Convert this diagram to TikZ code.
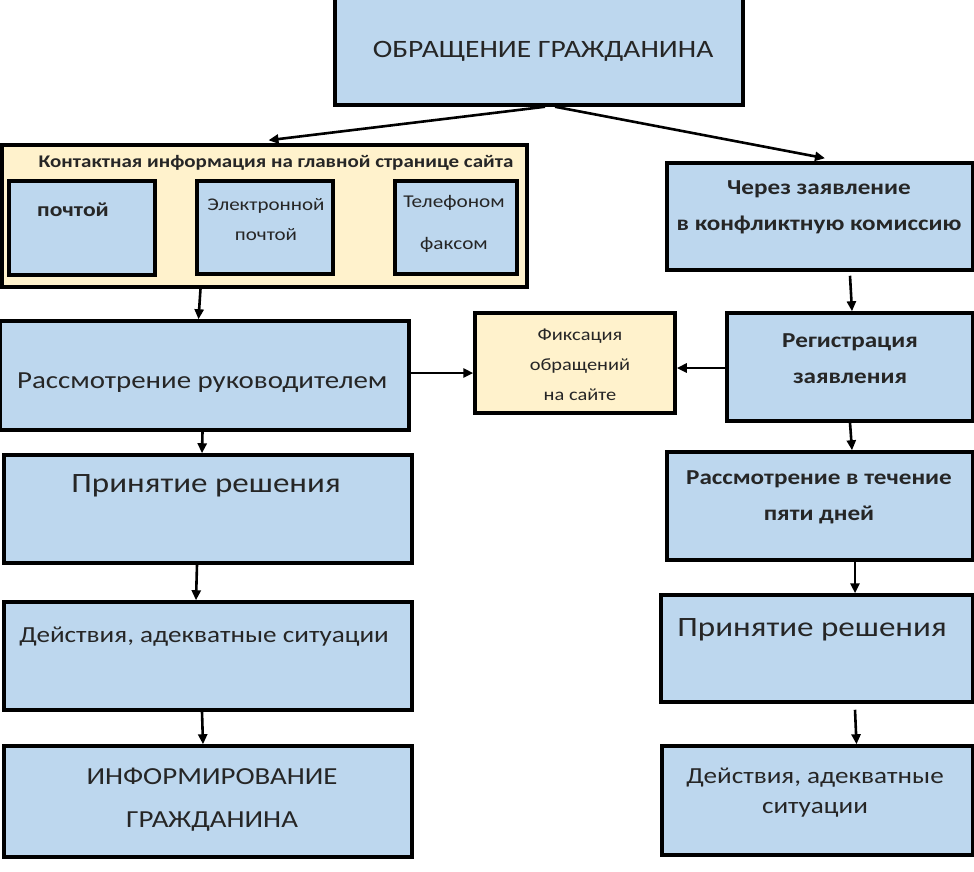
\documentclass[tikz,border=0pt]{standalone}
\usepackage{fontspec}
\usepackage{graphicx}
\setmainfont{Carlito}
\usetikzlibrary{arrows.meta}
\definecolor{boxblue}{RGB}{189,215,238}
\definecolor{boxyellow}{RGB}{255,242,204}
\newcommand\sx[1]{\scalebox{1.18}[1]{#1}}
\begin{document}
\begin{tikzpicture}[x=1pt,y=-1pt,
  bluebox/.style={draw=black,line width=3.5pt,fill=boxblue,inner sep=0pt},
  yellowbox/.style={draw=black,line width=3.5pt,fill=boxyellow,inner sep=0pt},
  txt/.style={inner sep=0pt,align=center,text=black!85},
  arr/.style={line width=2.6pt,-{Triangle[length=10pt,width=9pt]}}]
\useasboundingbox[fill=white] (0,0) rectangle (974,871);
% top
\node[bluebox,minimum width=408pt,minimum height=112pt] (top) at (539,49) {};
\node[txt,font=\fontsize{25}{30}\selectfont] (toptxt) at (543,51) {\sx{ОБРАЩЕНИЕ ГРАЖДАНИНА}};
% yellow contact box
\node[yellowbox,minimum width=525pt,minimum height=142pt] (yel) at (264.5,216) {};
\node[txt,font=\bfseries\fontsize{17.8}{20}\selectfont] (yeltxt) at (276,163) {\sx{Контактная информация на главной странице сайта}};
\node[bluebox,minimum width=146pt,minimum height=94pt] (post) at (82,228) {};
\node[txt,font=\bfseries\fontsize{20}{22}\selectfont] (posttxt) at (73,210) {\sx{почтой}};
\node[bluebox,minimum width=136pt,minimum height=93pt] (email) at (265,227.5) {};
\node[txt,font=\fontsize{17.8}{30}\selectfont] (emailtxt) at (266,220) {\sx{Электронной}\\\sx{почтой}};
\node[bluebox,minimum width=122pt,minimum height=93pt] (phone) at (456,227.5) {};
\node[txt,font=\fontsize{18}{42}\selectfont] (phonetxt) at (454,224) {\sx{Телефоном}\\\sx{факсом}};
% right column
\node[bluebox,minimum width=306pt,minimum height=107pt] (r1) at (820,216.5) {};
\node[txt,font=\bfseries\fontsize{21.3}{36}\selectfont] (r1txt) at (819,207) {\sx{Через заявление}\\\sx{в конфликтную комиссию}};
\node[bluebox,minimum width=246pt,minimum height=108pt] (r2) at (850,367) {};
\node[txt,font=\bfseries\fontsize{21.3}{36}\selectfont] (r2txt) at (850,359) {\sx{Регистрация}\\\sx{заявления}};
\node[bluebox,minimum width=306pt,minimum height=108pt] (r3) at (820,506) {};
\node[txt,font=\bfseries\fontsize{21.3}{36}\selectfont] (r3txt) at (819,497) {\sx{Рассмотрение в течение}\\\sx{пяти дней}};
\node[bluebox,minimum width=312pt,minimum height=107pt] (r4) at (817,648.5) {};
\node[txt,font=\fontsize{28}{34}\selectfont] (r4txt) at (812,630) {\sx{Принятие решения}};
\node[bluebox,minimum width=311pt,minimum height=109pt] (r5) at (817.5,800.5) {};
\node[txt,font=\fontsize{23}{30}\selectfont] (r5txt) at (815,793) {\sx{Действия, адекватные}\\\sx{ситуации}};
% fixation
\node[yellowbox,minimum width=200pt,minimum height=100pt] (fix) at (575,363) {};
\node[txt,font=\fontsize{17.3}{30}\selectfont] (fixtxt) at (580,365) {\sx{Фиксация}\\\sx{обращений}\\\sx{на сайте}};
% left column
\node[bluebox,minimum width=409pt,minimum height=109pt] (l1) at (204.5,375.5) {};
\node[txt,font=\fontsize{24.5}{30}\selectfont,anchor=west] (l1txt) at (17,383) {\sx{Рассмотрение руководителем}};
\node[bluebox,minimum width=408pt,minimum height=108pt] (l2) at (208,509) {};
\node[txt,font=\fontsize{28}{34}\selectfont] (l2txt) at (206,486) {\sx{Принятие решения}};
\node[bluebox,minimum width=408pt,minimum height=108pt] (l3) at (208,656) {};
\node[txt,font=\fontsize{23}{30}\selectfont] (l3txt) at (204,637) {\sx{Действия, адекватные ситуации}};
\node[bluebox,minimum width=408pt,minimum height=111pt] (l4) at (208,801.5) {};
\node[txt,font=\fontsize{24.5}{43}\selectfont] (l4txt) at (212,800) {\sx{ИНФОРМИРОВАНИЕ}\\\sx{ГРАЖДАНИНА}};
% arrows
\draw[arr] ([xshift=6pt]top.south) -- ([xshift=4pt,yshift=3pt]yel.north);
\draw[arr] ([xshift=16pt]top.south) -- ([xshift=5pt,yshift=3pt]r1.north);
\draw[arr] ([xshift=-64pt]yel.south) -- ([xshift=-6pt]l1.north);
\draw[arr] ([xshift=-2pt]l1.south) -- ([xshift=-6pt]l2.north);
\draw[arr] ([xshift=-11pt]l2.south) -- ([xshift=-12pt]l3.north);
\draw[arr] ([xshift=-6pt]l3.south) -- ([xshift=-5pt]l4.north);
\draw[arr] ([yshift=2.5pt]l1.east) -- ([yshift=-10pt]fix.west);
\draw[arr] ([xshift=3pt,yshift=-1pt]r2.west) -- ([yshift=-5pt]fix.east);
\draw[arr] ([xshift=30pt,yshift=-4pt]r1.south) -- ([xshift=2pt]r2.north);
\draw[arr] (r2.south) -- ([xshift=32pt]r3.north);
\draw[arr] ([xshift=35pt]r3.south) -- ([xshift=38pt]r4.north);
\draw[arr] ([xshift=38pt,yshift=-6pt]r4.south) -- ([xshift=39pt]r5.north);
\end{tikzpicture}
\end{document}
